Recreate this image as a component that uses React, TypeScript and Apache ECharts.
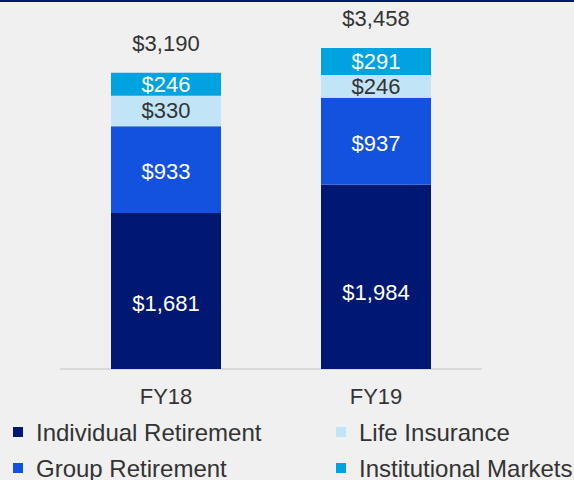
import React, { useEffect, useRef } from "react";
import * as echarts from "echarts";

const categories = ["FY18", "FY19"];
const individualRetirement = [1681, 1984];
const groupRetirement = [933, 937];
const lifeInsurance = [330, 246];
const institutionalMarkets = [246, 291];
const totals = [3190, 3458];

const FONT = "'Liberation Sans', Arial, sans-serif";
const FS = 22;
const LFS = 24;
const fmt = (v: number) => "$" + v.toLocaleString("en-US");

export default function App() {
  const ref = useRef<HTMLDivElement>(null);
  useEffect(() => {
    if (!ref.current) return;
    const chart = echarts.init(ref.current, null, { renderer: "svg" });
    const barLabel = (color: string, extra: any = {}) => ({
      show: true,
      position: "inside",
      color,
      fontFamily: FONT,
      fontSize: FS,
      formatter: (p: any) => fmt(p.value),
      ...extra,
    });
    const legendItem = (name: string, left: number, top: number) => ({
      left,
      top,
      orient: "horizontal",
      itemWidth: 10,
      itemHeight: 10,
      icon: "rect",
      data: [name],
      textStyle: {
        fontFamily: FONT,
        fontSize: LFS,
        color: "#333333",
        padding: [0, 0, 0, 8],
      },
    });
    const irOffsets = [13, 16];
    chart.setOption({
      animation: false,
      backgroundColor: "#f0f0f0",
      textStyle: { fontFamily: FONT },
      graphic: [
        {
          type: "rect",
          shape: { x: 0, y: 0, width: 574, height: 2 },
          style: { fill: "#001871" },
        },
      ],
      legend: [
        legendItem("Individual Retirement", 8, 415),
        legendItem("Group Retirement", 8, 451),
        legendItem("Life Insurance", 331, 415),
        legendItem("Institutional Markets", 331, 451),
      ],
      grid: { left: 61, right: 93, top: 44, bottom: 111 },
      xAxis: {
        type: "category",
        data: categories,
        axisLine: { show: true, lineStyle: { color: "#d9d9d9", width: 2 } },
        axisTick: { show: false },
        axisLabel: {
          fontFamily: FONT,
          fontSize: FS,
          color: "#333333",
          margin: 16,
        },
      },
      yAxis: {
        type: "value",
        min: 0,
        max: 3500,
        show: false,
        splitLine: { show: false },
      },
      series: [
        {
          name: "Individual Retirement",
          type: "bar",
          stack: "total",
          barWidth: 110,
          data: individualRetirement.map((v, i) => ({
            value: v,
            label: { offset: [0, irOffsets[i]] },
          })),
          itemStyle: { color: "#001871" },
          label: barLabel("#ffffff"),
        },
        {
          name: "Group Retirement",
          type: "bar",
          stack: "total",
          data: groupRetirement,
          itemStyle: { color: "#1352de" },
          label: barLabel("#ffffff", { offset: [0, 2] }),
        },
        {
          name: "Life Insurance",
          type: "bar",
          stack: "total",
          data: lifeInsurance,
          itemStyle: { color: "#c1e5f7" },
          label: barLabel("#333333"),
        },
        {
          name: "Institutional Markets",
          type: "bar",
          stack: "total",
          data: institutionalMarkets,
          itemStyle: { color: "#00a3e0" },
          label: barLabel("#ffffff"),
        },
        {
          name: "Total",
          type: "bar",
          stack: "total",
          data: totals.map(() => 0),
          silent: true,
          itemStyle: { color: "transparent" },
          label: {
            show: true,
            position: "top",
            distance: 18,
            color: "#333333",
            fontFamily: FONT,
            fontSize: FS,
            formatter: (p: any) => fmt(totals[p.dataIndex]),
          },
        },
      ],
    });
    return () => chart.dispose();
  }, []);
  return (
    <div
      ref={ref}
      style={{ position: "fixed", left: 0, top: 0, width: 574, height: 480 }}
    />
  );
}
